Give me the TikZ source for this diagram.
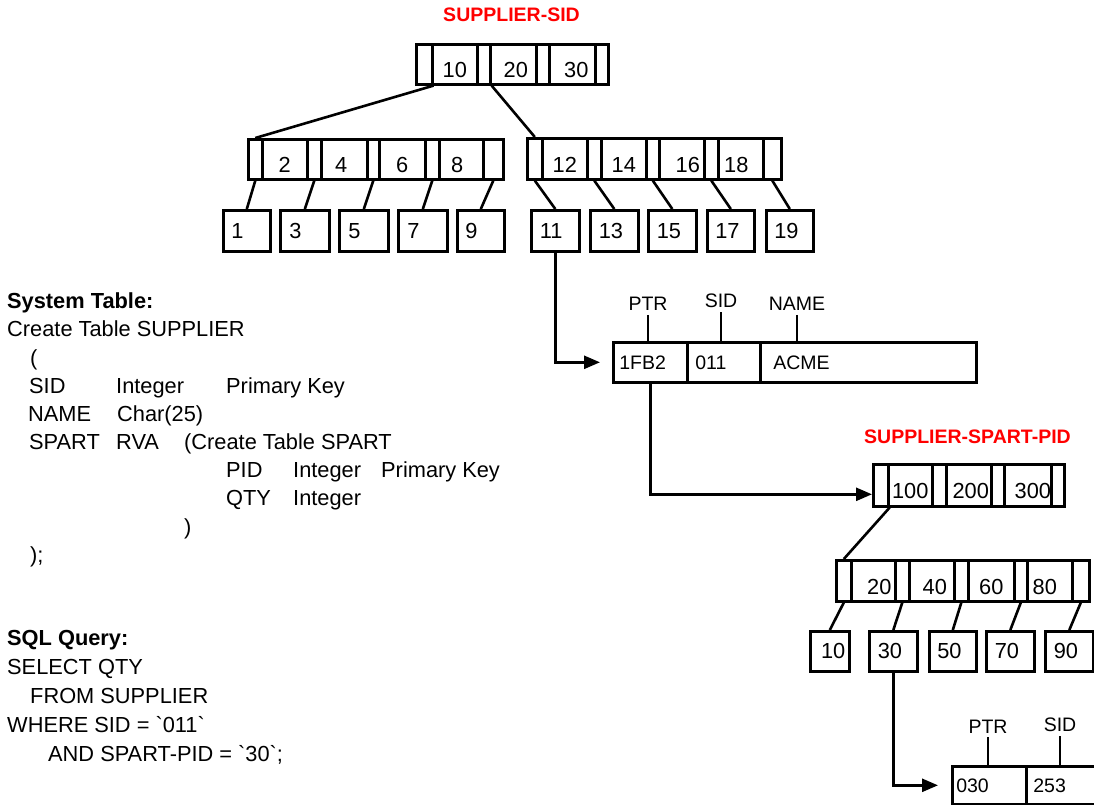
\documentclass[tikz,border=0pt]{standalone}
\usepackage{fontspec}
\setmainfont{Liberation Sans}
\usetikzlibrary{arrows.meta}

\newcommand{\bigtxt}{\fontsize{21.8pt}{26pt}\selectfont}
\newcommand{\smalltxt}{\fontsize{19.5pt}{23pt}\selectfont}

\begin{document}
\begin{tikzpicture}[x=1pt,y=-1pt,
  box/.style={draw, line width=2.6pt, fill=white, inner sep=0pt, anchor=north west},
  ht/.style={minimum height=#1},
  ptr/.style={box, minimum width=#1},
  key/.style={box, minimum width=#1, text height=27pt, text depth=0pt, font=\bigtxt},
  leaf/.style={box, minimum width=#1, inner xsep=8pt, text width=31pt, align=left, font=\bigtxt},
  rec/.style={box, align=left, font=\smalltxt},
  fld/.style={font=\smalltxt, inner sep=4pt},
  title/.style={font=\smalltxt\bfseries, text=red, inner sep=0pt},
  txt/.style={anchor=base west, inner sep=0pt, font=\bigtxt},
  conn/.style={line width=2.6pt},
  tip/.style={-{Triangle[length=16pt,width=13pt]}}
]
\useasboundingbox (0,0) rectangle (1094,805);
\clip (0,0) rectangle (1094,805);

% ---------- SUPPLIER-SID index ----------
\node[title] (tsid) at (511.5,15) {SUPPLIER-SID};

\begin{scope}[every node/.append style={ht=40pt}]
\node[ptr=16pt] (t1) at (415,43) {};
\node[key=45pt] (t2) at (431,43) {10};
\node[ptr=13pt] (t3) at (476,43) {};
\node[key=46pt] (t4) at (489,43) {\hspace*{5pt}20};
\node[ptr=13pt] (t5) at (535,43) {};
\node[key=46pt] (t6) at (548,43) {\hspace*{8pt}30};
\node[ptr=13pt] (t7) at (594,43) {};

\node[ptr=14pt] (a1) at (247,138) {};
\node[key=45pt] (a2) at (261,138) {2};
\node[ptr=14pt] (a3) at (306,138) {};
\node[key=46pt] (a4) at (320,138) {4\hspace*{6pt}};
\node[ptr=12pt] (a5) at (366,138) {};
\node[key=46pt] (a6) at (378,138) {6};
\node[ptr=14pt] (a7) at (424,138) {};
\node[key=44pt] (a8) at (438,138) {8\hspace*{8pt}};
\node[ptr=20pt] (a9) at (482,138) {};
\end{scope}

\begin{scope}[every node/.append style={ht=41pt}]
\node[ptr=15pt] (b1) at (526,137) {};
\node[key=45pt] (b2) at (541,137) {12};
\node[ptr=14pt] (b3) at (586,137) {};
\node[key=45pt] (b4) at (600,137) {14};
\node[ptr=13pt] (b5) at (645,137) {};
\node[key=45pt] (b6) at (658,137) {\hspace*{12pt}16};
\node[ptr=14pt] (b7) at (703,137) {};
\node[key=45pt] (b8) at (717,137) {18\hspace*{9pt}};
\node[ptr=18pt] (b9) at (762,137) {};

\node[leaf=47pt] (la1) at (222,209) {1};
\node[leaf=49pt] (la2) at (279,209) {3};
\node[leaf=49pt] (la3) at (338,209) {5};
\node[leaf=49pt] (la4) at (397,209) {7};
\node[leaf=47pt] (la5) at (456,209) {9};

\node[leaf=48pt] (lb1) at (530,209) {11};
\node[leaf=48pt] (lb2) at (589,209) {13};
\node[leaf=48pt] (lb3) at (647,209) {15};
\node[leaf=47pt] (lb4) at (706,209) {17};
\node[leaf=47pt] (lb5) at (765,209) {19};
\end{scope}

\draw[conn] (t1.south east) -- (a1.north);
\draw[conn] (t3.south east) -- (b1.north);
\draw[conn] (a1.south) -- (la1.north);
\draw[conn] (a3.south) -- (la2.north);
\draw[conn] (a5.south) -- (la3.north);
\draw[conn] (a7.south) -- (la4.north);
\draw[conn] (a9.south) -- (la5.north);
\draw[conn] (b1.south) -- (lb1.north);
\draw[conn] (b3.south) -- (lb2.north);
\draw[conn] (b5.south) -- (lb3.north);
\draw[conn] (b7.south) -- (lb4.north);
\draw[conn] (b9.south) -- (lb5.north);

% ---------- SUPPLIER record ----------
\begin{scope}[every node/.append style={ht=40pt}]
\node[rec, inner xsep=6pt, text width=62pt] (r1a) at (612,341) {1FB2};
\node[rec, inner xsep=8pt, text width=57pt] (r1b) at (686,341) {011};
\node[rec, inner xsep=13pt, text width=190pt] (r1c) at (759,341) {ACME};
\end{scope}
\node[fld] (f1) at (648,304) {PTR};
\node[fld] (f2) at (721,301) {SID};
\node[fld] (f3) at (797,304) {NAME};
\draw[conn] (f1.south) -- (f1.south |- r1a.north);
\draw[conn] (f2.south) -- (f2.south |- r1b.north);
\draw[conn] (f3.south) -- (f3.south |- r1c.north);

\draw[conn, tip, shorten >=12pt] (lb1.south) |- (r1a.west);

% ---------- SUPPLIER-SPART-PID index ----------
\node[title] (tpid) at (967.5,436.5) {SUPPLIER-SPART-PID};

\begin{scope}[every node/.append style={ht=42pt}]
\node[ptr=15pt] (s1) at (872,463) {};
\node[key=44pt] (s2) at (887,463) {100};
\node[ptr=14pt] (s3) at (931,463) {};
\node[key=45pt] (s4) at (945,463) {\hspace*{4pt}200};
\node[ptr=13pt] (s5) at (990,463) {};
\node[key=47pt] (s6) at (1003,463) {\hspace*{10pt}300};
\node[ptr=13pt] (s7) at (1050,463) {};
\end{scope}

\begin{scope}[every node/.append style={ht=41pt}]
\node[ptr=15pt] (c1) at (835,559) {};
\node[key=44pt] (c2) at (850,559) {\hspace*{12pt}20};
\node[ptr=14pt] (c3) at (894,559) {};
\node[key=45pt] (c4) at (908,559) {\hspace*{6pt}40};
\node[ptr=14pt] (c5) at (953,559) {};
\node[key=46pt] (c6) at (967,559) {60};
\node[ptr=13pt] (c7) at (1013,559) {};
\node[key=45pt] (c8) at (1026,559) {80\hspace*{10pt}};
\node[ptr=17pt] (c9) at (1071,559) {};
\end{scope}

\begin{scope}[every node/.append style={ht=40pt}]
\node[leaf=39pt, inner xsep=4pt, align=right] (lc1) at (809,630) {10};
\node[leaf=48pt] (lc2) at (868,630) {30};
\node[leaf=47pt] (lc3) at (928,630) {50};
\node[leaf=48pt] (lc4) at (985,630) {70};
\node[leaf=48pt] (lc5) at (1044,630) {90};
\end{scope}

\draw[conn, tip] (r1a.south) |- ([yshift=-9pt]s1.west);
\draw[conn] (s1.south east) -- (c1.north);
\draw[conn] (c1.south) -- (lc1.north);
\draw[conn] (c3.south) -- (lc2.north);
\draw[conn] (c5.south) -- (lc3.north);
\draw[conn] (c7.south) -- (lc4.north);
\draw[conn] (c9.south) -- (lc5.north);

% ---------- SPART record ----------
\begin{scope}[every node/.append style={ht=38pt}]
\node[rec, inner xsep=4pt, text width=66pt] (r2a) at (951,765) {030};
\node[rec, inner xsep=7pt, text width=71pt] (r2b) at (1025,765) {253};
\end{scope}
\node[fld] (f4) at (988,726.5) {PTR};
\node[fld] (f5) at (1060,725) {SID};
\draw[conn] (f4.south) -- (f4.south |- r2a.north);
\draw[conn] (f5.south) -- (f5.south |- r2b.north);

\draw[conn, tip, shorten >=13pt] (lc2.south) |- (r2a.west);

% ---------- table definition ----------
\node[txt, font=\bigtxt\bfseries] (h1) at (7,308) {System Table:};
\node[txt] (d1) at (7,336.5) {Create Table SUPPLIER};
\node[txt] (d2) at (30,365) {(};
\node[txt] (d3) at (29,393) {SID};
\node[txt] (d4) at (116,393) {Integer};
\node[txt] (d5) at (226,393) {Primary Key};
\node[txt] (d6) at (28,421) {NAME};
\node[txt] (d7) at (117,421) {Char(25)};
\node[txt] (d8) at (29,449) {SPART};
\node[txt] (d9) at (116,449) {RVA};
\node[txt] (d10) at (184,449) {(Create Table SPART};
\node[txt] (d11) at (226,477) {PID};
\node[txt] (d12) at (293,477) {Integer};
\node[txt] (d13) at (381,477) {Primary Key};
\node[txt] (d14) at (226,505.5) {QTY};
\node[txt] (d15) at (293,505.5) {Integer};
\node[txt] (d16) at (184,534) {)};
\node[txt] (d17) at (30,562) {);};

% ---------- query ----------
\node[txt, font=\bigtxt\bfseries] (h2) at (7,645) {SQL Query:};
\node[txt] (q1) at (7,674) {SELECT QTY};
\node[txt] (q2) at (30,703) {FROM SUPPLIER};
\node[txt] (q3) at (7,732) {WHERE SID = \textasciigrave011\textasciigrave};
\node[txt] (q4) at (48,761) {AND SPART-PID = \textasciigrave30\textasciigrave;};
\end{tikzpicture}
\end{document}
